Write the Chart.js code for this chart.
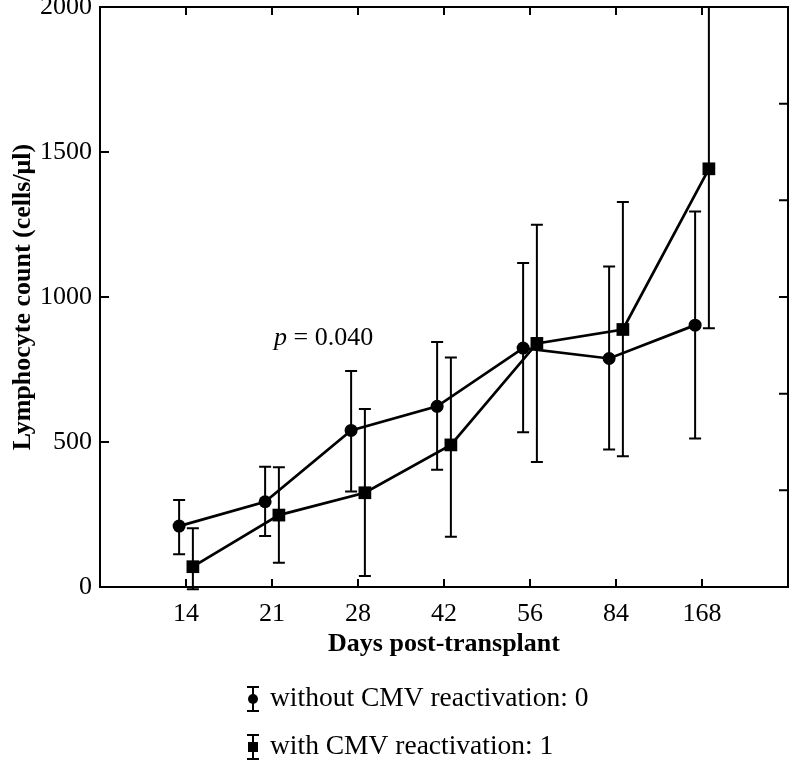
<!DOCTYPE html>
<html>
<head>
<meta charset="utf-8">
<script src="https://cdn.jsdelivr.net/npm/chart.js@4.4.1/dist/chart.umd.min.js"></script>
<style>
  html, body { margin: 0; padding: 0; background: #fff; }
</style>
</head>
<body>
<canvas id="lymphChart" width="790" height="762"></canvas>
<script>
// data
const days = ["14", "21", "28", "42", "56", "84", "168"];

const noCmvMean = [210, 294, 540, 623, 824, 788, 903];
const noCmvLow  = [113, 176, 329, 404, 534, 474, 512];
const noCmvHigh = [300, 415, 745, 845, 1117, 1105, 1295];

const cmvMean = [70, 248, 325, 490, 840, 888, 1442];
const cmvLow  = [-8, 84, 38, 173, 431, 451, 892];
const cmvHigh = [203, 413, 614, 791, 1249, 1328, 2000];

const yTicks = [0, 500, 1000, 1500, 2000];
const labels = ["without CMV reactivation: 0", "with CMV reactivation: 1"];

const FONT = "'Liberation Serif', 'Times New Roman', serif";
const dodge = 0.08; // horizontal offset between the two groups

function points(vals, off) {
  return vals.map((v, i) => ({ x: i + off, y: v }));
}

// error bars, frame, inward ticks, legend and the p value
const extras = {
  id: "extras",
  beforeDatasetsDraw(chart) {
    const { ctx, scales: { x, y } } = chart;
    ctx.save();
    ctx.strokeStyle = "#000";
    ctx.lineWidth = 2;
    chart.data.datasets.forEach(ds => {
      ds.data.forEach((p, i) => {
        const px = x.getPixelForValue(p.x);
        const lo = y.getPixelForValue(ds.errLow[i]);
        const hi = y.getPixelForValue(ds.errHigh[i]);
        ctx.beginPath();
        ctx.moveTo(px, lo); ctx.lineTo(px, hi);
        ctx.moveTo(px - 6, lo); ctx.lineTo(px + 6, lo);
        ctx.moveTo(px - 6, hi); ctx.lineTo(px + 6, hi);
        ctx.stroke();
      });
    });
    ctx.restore();
  },
  afterDraw(chart) {
    const { ctx, chartArea: a, scales: { x, y } } = chart;
    ctx.save();
    ctx.strokeStyle = "#000";
    ctx.lineWidth = 2;
    ctx.strokeRect(a.left, a.top, a.right - a.left, a.bottom - a.top);

    ctx.beginPath();
    days.forEach((d, i) => {
      const px = x.getPixelForValue(i);
      ctx.moveTo(px, a.bottom); ctx.lineTo(px, a.bottom - 8);
      ctx.moveTo(px, a.top); ctx.lineTo(px, a.top + 8);
    });
    yTicks.forEach(v => {
      const py = y.getPixelForValue(v);
      ctx.moveTo(a.left, py); ctx.lineTo(a.left + 9, py);
    });
    for (let k = 1; k < 6; k++) {
      const py = a.top + (a.bottom - a.top) * k / 6;
      ctx.moveTo(a.right, py); ctx.lineTo(a.right - 9, py);
    }
    ctx.stroke();

    // p value
    ctx.fillStyle = "#000";
    ctx.textBaseline = "middle";
    const tx = x.getPixelForValue(1.6), ty = y.getPixelForValue(858);
    ctx.font = "italic 26px " + FONT;
    const pw = ctx.measureText("p").width;
    ctx.font = "26px " + FONT;
    const rest = " = 0.040";
    const rw = ctx.measureText(rest).width;
    const sx = tx - (pw + rw) / 2;
    ctx.font = "italic 26px " + FONT;
    ctx.fillText("p", sx, ty);
    ctx.font = "26px " + FONT;
    ctx.fillText(rest, sx + pw, ty);

    // legend
    chart.data.datasets.forEach((ds, i) => {
      const ly = 699 + i * 48;
      const lx = 253;
      ctx.lineWidth = 2;
      ctx.beginPath();
      ctx.moveTo(lx, ly - 12); ctx.lineTo(lx, ly + 12);
      ctx.moveTo(lx - 6, ly - 12); ctx.lineTo(lx + 6, ly - 12);
      ctx.moveTo(lx - 6, ly + 12); ctx.lineTo(lx + 6, ly + 12);
      ctx.stroke();
      ctx.beginPath();
      if (ds.pointStyle === "rect") ctx.rect(lx - 5, ly - 5, 10, 10);
      else ctx.arc(lx, ly, 5, 0, Math.PI * 2);
      ctx.fill();
      ctx.font = "27.5px " + FONT;
      ctx.textAlign = "left";
      ctx.fillText(ds.label, 270, ly);
    });
    ctx.restore();
  }
};

new Chart(document.getElementById("lymphChart"), {
  type: "line",
  data: {
    datasets: [
      {
        label: labels[0],
        data: points(noCmvMean, -dodge),
        errLow: noCmvLow,
        errHigh: noCmvHigh,
        pointStyle: "circle",
        pointRadius: 6.5
      },
      {
        label: labels[1],
        data: points(cmvMean, dodge),
        errLow: cmvLow,
        errHigh: cmvHigh,
        pointStyle: "rect",
        pointRadius: 9
      }
    ].map(ds => Object.assign(ds, {
      borderColor: "#000",
      backgroundColor: "#000",
      borderWidth: 2.7,
      pointBorderWidth: 0,
      pointHoverRadius: ds.pointRadius,
      tension: 0,
      clip: false
    }))
  },
  plugins: [extras],
  options: {
    responsive: false,
    animation: false,
    events: [],
    layout: { autoPadding: false, padding: { left: 0, top: 7, right: 2, bottom: 100 } },
    plugins: {
      legend: { display: false },
      tooltip: { enabled: false }
    },
    scales: {
      x: {
        type: "linear",
        min: -1,
        max: 7,
        afterFit: s => { s.height = 75; s.paddingLeft = 0; s.paddingRight = 0; },
        afterBuildTicks: s => { s.ticks = days.map((d, i) => ({ value: i })); },
        grid: { display: false },
        border: { display: false },
        ticks: {
          autoSkip: false,
          maxRotation: 0,
          padding: 4,
          color: "#000",
          font: { family: FONT, size: 26 },
          callback: v => days[v] ?? ""
        },
        title: {
          display: true,
          text: "Days post-transplant",
          color: "#000",
          padding: { top: 0, bottom: 2 },
          font: { family: FONT, size: 26, weight: "bold" }
        }
      },
      y: {
        min: 0,
        max: 2000,
        afterFit: s => { s.width = 100; s.paddingTop = 0; s.paddingBottom = 0; },
        afterBuildTicks: s => { s.ticks = yTicks.map(v => ({ value: v })); },
        grid: { display: false },
        border: { display: false },
        ticks: {
          padding: 0,
          color: "#000",
          font: { family: FONT, size: 26 },
          callback: v => String(v)
        },
        title: {
          display: true,
          text: "Lymphocyte count (cells/\u03bcl)",
          color: "#000",
          padding: { top: 8, bottom: 0 },
          font: { family: FONT, size: 26, weight: "bold" }
        }
      }
    }
  }
});
</script>
</body>
</html>
